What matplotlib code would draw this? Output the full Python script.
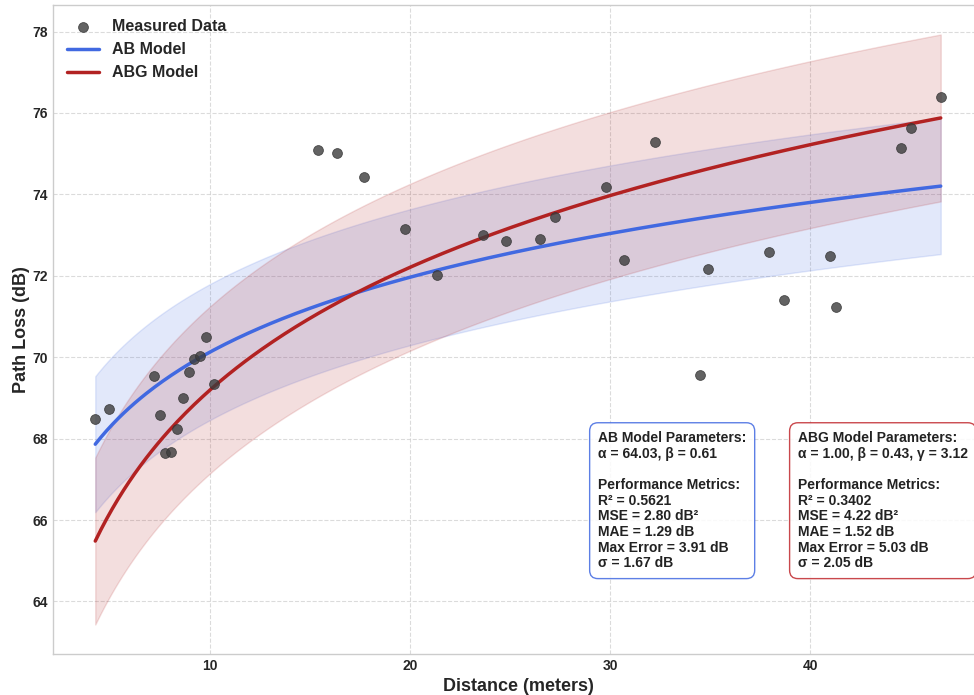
import numpy as np
import matplotlib
matplotlib.use("Agg")
import matplotlib.pyplot as plt

plt.style.use("seaborn-v0_8-whitegrid")
plt.rcParams["font.family"] = ["Liberation Sans", "DejaVu Sans"]
plt.rcParams["font.weight"] = "bold"

# measured samples (distance in m, path loss in dB)
distance = [4.25, 4.95, 7.17, 7.47, 7.73, 8.05, 8.33, 8.63, 8.93, 9.20, 9.50,
            9.78, 10.18, 15.38, 16.35, 17.68, 19.72, 21.33, 23.63, 24.78,
            26.47, 27.25, 29.78, 30.70, 32.25, 34.50, 34.87, 37.92, 38.68,
            40.97, 41.27, 44.53, 45.03, 46.53]
path_loss = [68.47, 68.74, 69.55, 68.59, 67.64, 67.66, 68.24, 69.00, 69.63,
             69.96, 70.03, 70.49, 69.34, 75.08, 75.02, 74.43, 73.16, 72.01,
             72.99, 72.86, 72.91, 73.44, 74.17, 72.38, 75.29, 69.56, 72.16,
             72.58, 71.41, 72.48, 71.23, 75.13, 75.62, 76.38]

# fitted model parameters
ab_alpha, ab_beta = 64.03, 0.61
ab_r2, ab_mse, ab_mae, ab_max, ab_sigma = 0.5621, 2.80, 1.29, 3.91, 1.67
abg_alpha, abg_beta, abg_gamma = 1.00, 0.43, 3.12
abg_r2, abg_mse, abg_mae, abg_max, abg_sigma = 0.3402, 4.22, 1.52, 5.03, 2.05
freq_ghz = 76.5

d = np.linspace(min(distance), max(distance), 300)
pl_ab = ab_alpha + 10 * ab_beta * np.log10(d)
pl_abg = 10 * abg_alpha * np.log10(d) + abg_beta + 10 * abg_gamma * np.log10(freq_ghz)

fig = plt.figure(figsize=(9.74, 6.95), dpi=100)
ax = fig.add_axes([53 / 974, 41 / 695, 930 / 974, 649 / 695])

ax.scatter(distance, path_loss, s=50, color="#3c3c3c", alpha=0.8,
           edgecolors="#333333", linewidths=0.6, label="Measured Data", zorder=3)
ax.plot(d, pl_ab, color="royalblue", lw=2.5, label="AB Model", zorder=2)
ax.fill_between(d, pl_ab - ab_sigma, pl_ab + ab_sigma, color="royalblue", alpha=0.15, zorder=1)
ax.plot(d, pl_abg, color="firebrick", lw=2.5, label="ABG Model", zorder=2)
ax.fill_between(d, pl_abg - abg_sigma, pl_abg + abg_sigma, color="firebrick", alpha=0.15, zorder=1)

ax.set_xlabel("Distance (meters)", fontsize=13, fontweight="bold")
ax.set_ylabel("Path Loss (dB)", fontsize=13, fontweight="bold", labelpad=2)
ax.tick_params(labelsize=10)
for lbl in ax.get_xticklabels() + ax.get_yticklabels():
    lbl.set_fontweight("bold")
ax.grid(True, linestyle="--", color="#cccccc", alpha=0.7)

ax.legend(loc="upper left", frameon=False, labelspacing=0.5,
          prop={"weight": "bold", "size": 11.5})

ab_text = (f"AB Model Parameters:\n"
           f"α = {ab_alpha:.2f}, β = {ab_beta:.2f}\n\n"
           f"Performance Metrics:\n"
           f"R² = {ab_r2:.4f}\n"
           f"MSE = {ab_mse:.2f} dB²\n"
           f"MAE = {ab_mae:.2f} dB\n"
           f"Max Error = {ab_max:.2f} dB\n"
           f"σ = {ab_sigma:.2f} dB")
abg_text = (f"ABG Model Parameters:\n"
            f"α = {abg_alpha:.2f}, β = {abg_beta:.2f}, γ = {abg_gamma:.2f}\n\n"
            f"Performance Metrics:\n"
            f"R² = {abg_r2:.4f}\n"
            f"MSE = {abg_mse:.2f} dB²\n"
            f"MAE = {abg_mae:.2f} dB\n"
            f"Max Error = {abg_max:.2f} dB\n"
            f"σ = {abg_sigma:.2f} dB")

for x0, txt, edge in [(0.586, ab_text, "royalblue"), (0.801, abg_text, "#c0282d")]:
    ax.text(x0, 0.129, txt, transform=ax.transAxes, fontsize=10, fontweight="bold",
            va="bottom", ha="left", color="#222222", linespacing=1.15,
            bbox=dict(boxstyle="round,pad=0.6", facecolor="white", alpha=0.85,
                      edgecolor=edge))

fig.savefig("out.png", dpi=100)
